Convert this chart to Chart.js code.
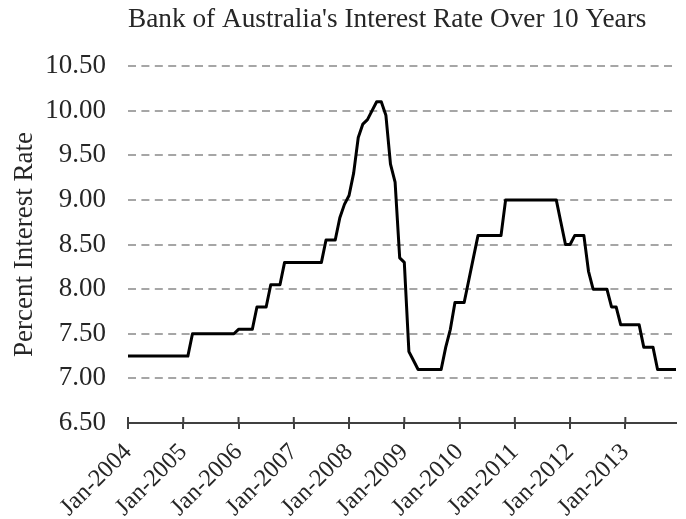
<!DOCTYPE html>
<html>
<head>
<meta charset="utf-8">
<script src="https://cdn.jsdelivr.net/npm/chart.js@4"></script>
<style>
  html, body { margin: 0; padding: 0; background: #ffffff; }
  #wrap { width: 686px; height: 519px; position: relative; }
</style>
</head>
<body>
<div id="wrap"><canvas id="c" width="686" height="519"></canvas></div>
<script>
const chartTitle = "Bank of Australia's Interest Rate Over 10 Years";
const yAxisTitle = "Percent Interest Rate";
const monthNames = ["Jan","Feb","Mar","Apr","May","Jun","Jul","Aug","Sep","Oct","Nov","Dec"];
const years = [2004, 2005, 2006, 2007, 2008, 2009, 2010, 2011, 2012, 2013];
const categories = [];
years.forEach(y => monthNames.forEach(m => categories.push(m + "-" + y)));

// Monthly interest rate, Jan-2004 .. Dec-2013
const rates = [
  7.25, 7.25, 7.25, 7.25, 7.25, 7.25, 7.25, 7.25, 7.25, 7.25, 7.25, 7.25,   // 2004
  7.25, 7.25, 7.50, 7.50, 7.50, 7.50, 7.50, 7.50, 7.50, 7.50, 7.50, 7.50,   // 2005
  7.55, 7.55, 7.55, 7.55, 7.80, 7.80, 7.80, 8.05, 8.05, 8.05, 8.30, 8.30,   // 2006
  8.30, 8.30, 8.30, 8.30, 8.30, 8.30, 8.30, 8.55, 8.55, 8.55, 8.80, 8.95,   // 2007
  9.05, 9.30, 9.70, 9.85, 9.90, 10.00, 10.10, 10.10, 9.95, 9.40, 9.20, 8.35, // 2008
  8.30, 7.30, 7.20, 7.10, 7.10, 7.10, 7.10, 7.10, 7.10, 7.35, 7.55, 7.85,   // 2009
  7.85, 7.85, 8.10, 8.35, 8.60, 8.60, 8.60, 8.60, 8.60, 8.60, 9.00, 9.00,   // 2010
  9.00, 9.00, 9.00, 9.00, 9.00, 9.00, 9.00, 9.00, 9.00, 9.00, 8.75, 8.50,   // 2011
  8.50, 8.60, 8.60, 8.60, 8.20, 8.00, 8.00, 8.00, 8.00, 7.80, 7.80, 7.60,   // 2012
  7.60, 7.60, 7.60, 7.60, 7.35, 7.35, 7.35, 7.10, 7.10, 7.10, 7.10, 7.10    // 2013
];
const yMin = 6.5, yMax = 10.5, yStep = 0.5;
const labelEvery = 12;

const FONT = "'Liberation Serif', 'Times New Roman', serif";
const TEXT = "#262626";
const AXIS = "#404040";

// draws the upward half of the crossing x-axis tick marks
const crossTicks = {
  id: 'crossTicks',
  afterDraw(chart) {
    const xs = chart.scales.x;
    const ctx = chart.ctx;
    const yb = chart.chartArea.bottom;
    ctx.save();
    ctx.strokeStyle = AXIS;
    ctx.lineWidth = 2;
    xs.ticks.forEach((t, i) => {
      const px = xs.getPixelForTick(i);
      ctx.beginPath();
      ctx.moveTo(px, yb);
      ctx.lineTo(px, yb - 6);
      ctx.stroke();
    });
    ctx.restore();
  }
};

new Chart(document.getElementById('c'), {
  type: 'line',
  data: {
    labels: categories,
    datasets: [{
      data: rates,
      borderColor: '#000000',
      borderWidth: 3,
      pointRadius: 0,
      tension: 0,
      borderJoinStyle: 'round',
      fill: false
    }]
  },
  options: {
    responsive: false,
    animation: false,
    devicePixelRatio: 1,
    layout: { padding: { left: 0, right: 10, top: 0, bottom: 0 } },
    plugins: {
      legend: { display: false },
      tooltip: { enabled: false },
      title: {
        display: true,
        text: chartTitle,
        fullSize: false,
        align: 'start',
        color: TEXT,
        font: { family: FONT, size: 27.3, weight: 'normal' },
        padding: { top: 3, bottom: 30.3 }
      }
    },
    scales: {
      x: {
        type: 'category',
        offset: false,
        afterBuildTicks(scale) {
          scale.ticks = scale.ticks.filter(t => t.value % labelEvery === 0);
        },
        afterFit(scale) { scale.height = 96; },
        ticks: {
          autoSkip: false,
          minRotation: 45,
          maxRotation: 45,
          color: TEXT,
          padding: 9,
          font: { family: FONT, size: 24.5 }
        },
        grid: {
          display: true,
          drawOnChartArea: false,
          drawTicks: true,
          tickLength: 6,
          color: AXIS,
          lineWidth: 2
        },
        border: { display: true, color: AXIS, width: 2 }
      },
      y: {
        min: yMin,
        max: yMax,
        afterFit(scale) { scale.width = 128; },
        ticks: {
          stepSize: yStep,
          color: TEXT,
          padding: 22,
          font: { family: FONT, size: 27 },
          callback: v => Number(v).toFixed(2)
        },
        grid: {
          color: '#a6a6a6',
          lineWidth: 2,
          drawTicks: false
        },
        border: { display: false, dash: [8, 5.4] },
        title: {
          display: true,
          text: yAxisTitle,
          color: TEXT,
          font: { family: FONT, size: 27 },
          padding: { top: 9, bottom: 0 }
        }
      }
    }
  },
  plugins: [crossTicks]
});
</script>
</body>
</html>
